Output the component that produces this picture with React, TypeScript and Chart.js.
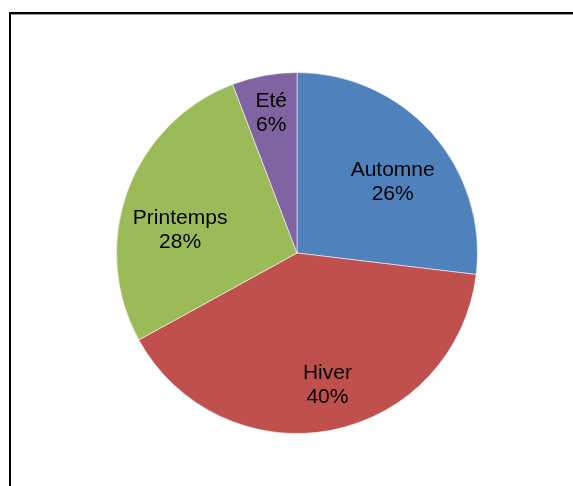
import React, { useEffect, useRef } from "react";
import { Chart, registerables } from "chart.js";

Chart.register(...registerables);

const categories = ["Automne", "Hiver", "Printemps", "Eté"];
const values = [26.9, 40.1, 27.2, 5.8];
const percentLabels = ["26%", "40%", "28%", "6%"];
const colors = ["#4F81BD", "#C0504D", "#9BBB59", "#8064A2"];
// label placement (fraction of radius, angle shift in degrees) – layout only
const labelRadius = [0.66, 0.75, 0.66, 0.79];
const labelAngleShift = [5, -2, -9, 0];

const labelPlugin = {
  id: "sliceLabels",
  afterDatasetsDraw(chart: any) {
    const ctx = chart.ctx;
    const meta = chart.getDatasetMeta(0);
    ctx.save();
    ctx.font = '21px "Liberation Sans", Arial, sans-serif';
    ctx.fillStyle = "#000";
    ctx.textAlign = "center";
    ctx.textBaseline = "middle";
    meta.data.forEach((arc: any, i: number) => {
      const p = arc.getProps(["x", "y", "startAngle", "endAngle", "outerRadius"], true);
      const mid = (p.startAngle + p.endAngle) / 2 + (labelAngleShift[i] * Math.PI) / 180;
      const r = p.outerRadius * labelRadius[i];
      const cx = p.x + Math.cos(mid) * r;
      const cy = p.y + Math.sin(mid) * r;
      ctx.fillText(categories[i], cx, cy - 12);
      ctx.fillText(percentLabels[i], cx, cy + 12);
    });
    ctx.restore();
  },
};

export default function App() {
  const ref = useRef<HTMLCanvasElement>(null);
  useEffect(() => {
    if (!ref.current) return;
    const chart = new Chart(ref.current, {
      type: "pie",
      data: {
        labels: categories,
        datasets: [
          {
            data: values,
            backgroundColor: colors,
            borderColor: "rgba(255,255,255,0.55)",
            borderWidth: 1,
          },
        ],
      },
      options: {
        responsive: false,
        animation: false,
        layout: { padding: { left: 116, right: 95, top: 72, bottom: 52 } },
        plugins: {
          legend: { display: false },
          tooltip: { enabled: false },
          title: { display: false },
        },
      },
      plugins: [labelPlugin],
    });
    return () => chart.destroy();
  }, []);
  return (
    <div
      style={{
        position: "fixed",
        left: 0,
        top: 0,
        width: 573,
        height: 486,
        overflow: "hidden",
        background: "#fff",
      }}
    >
      <div
        style={{
          position: "absolute",
          left: 9,
          top: 12,
          width: 620,
          height: 540,
          border: "2px solid #000",
          boxShadow: "inset 0 1px 0 #999",
          boxSizing: "border-box",
        }}
      />
      <canvas
        ref={ref}
        width={573}
        height={486}
        style={{ position: "absolute", left: 0, top: 0, width: 573, height: 486 }}
      />
    </div>
  );
}
